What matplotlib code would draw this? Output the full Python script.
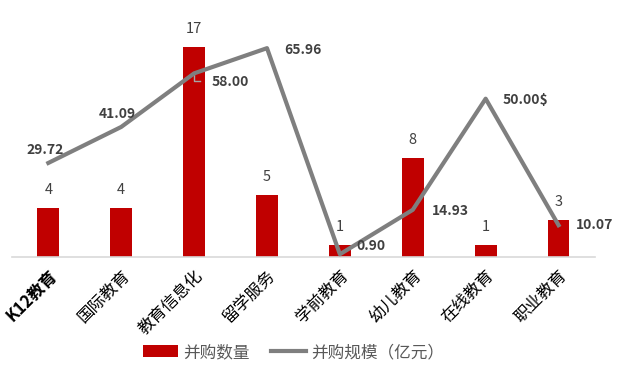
import matplotlib.pyplot as plt
import numpy as np

plt.rcParams['font.family'] = ['Noto Sans CJK SC', 'DejaVu Sans']

categories = ['K12教育', '国际教育', '教育信息化', '留学服务', '学前教育', '幼儿教育', '在线教育', '职业教育']
deal_count = [4, 4, 17, 5, 1, 8, 1, 3]
deal_size = [29.72, 41.09, 58.00, 65.96, 0.90, 14.93, 50.00, 10.07]
size_labels = ['29.72', '41.09', '58.00', '65.96', '0.90', '14.93', '50.00$', '10.07']
# label offsets in points (dx, dy) relative to each line point
label_offsets = [(-2, 9), (-3, 9), (26, -6), (26, -1), (22, 6), (27, -1), (29, -1), (26, 0)]

fig = plt.figure(figsize=(6.25, 3.71), dpi=100)
ax = fig.add_axes([0.019, 0.307, 0.933, 0.666])
x = np.arange(len(categories))

bars = ax.bar(x, deal_count, width=0.3, color='#C00000', label='并购数量', zorder=2)
for xi, v in zip(x, deal_count):
    ax.text(xi, v + 0.9, str(v), ha='center', va='bottom', fontsize=10.5, color='#404040')
ax.set_ylim(0, 20)
ax.set_xlim(-0.5, len(categories) - 0.5)
ax.set_yticks([])
for s in ['top', 'right', 'left']:
    ax.spines[s].set_visible(False)
ax.spines['bottom'].set_color('#D9D9D9')
ax.spines['bottom'].set_linewidth(1.2)
ax.set_xticks(x)
ax.set_xticklabels(categories, rotation=45, ha='right', rotation_mode='anchor',
                   fontsize=12, color='black')
ax.get_xticklabels()[0].set_fontweight('bold')
ax.tick_params(axis='x', length=0, pad=7)

ax2 = ax.twinx()
line, = ax2.plot(x, deal_size, color='#7F7F7F', linewidth=3, label='并购规模（亿元）', zorder=3)
ax2.set_ylim(0, 78)
ax2.set_yticks([])
for s in ['top', 'right', 'left', 'bottom']:
    ax2.spines[s].set_visible(False)
for xi, v, lab, (dx, dy) in zip(x, deal_size, size_labels, label_offsets):
    ax2.annotate(lab, (xi, v), xytext=(dx, dy), textcoords='offset points',
                 ha='center', va='center', fontsize=10, fontweight='bold', color='#404040')
# leader line for 58.00
ax2.plot([2.0, 2.0, 2.08], [58.0, 55.5, 55.5], color='#A6A6A6', linewidth=1, zorder=2)

fig.legend([bars, line], ['并购数量', '并购规模（亿元）'], loc='center', bbox_to_anchor=(0.47, 0.05),
           ncol=2, frameon=False, fontsize=12, labelcolor='#595959',
           handlelength=2.1, columnspacing=1.3, handletextpad=0.3)

fig.savefig('out.png', dpi=100)
